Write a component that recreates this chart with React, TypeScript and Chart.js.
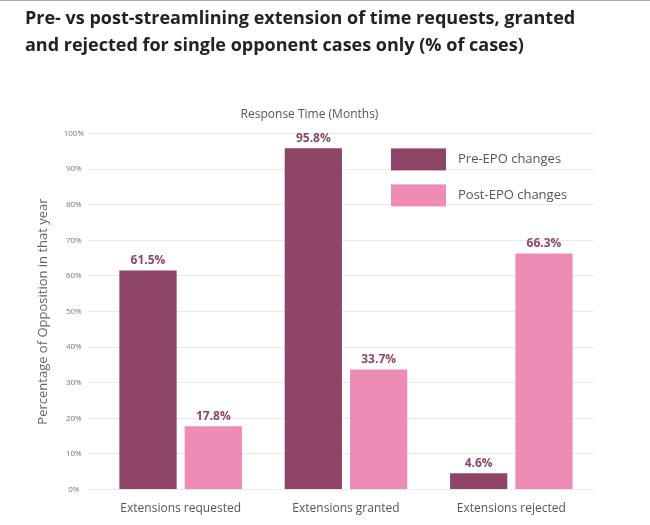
import React, { useEffect, useRef } from "react";
import { Chart, registerables } from "chart.js";

Chart.register(...registerables);

const titleLines = [
  "Pre- vs post-streamlining extension of time requests, granted",
  "and rejected for single opponent cases only (% of cases)",
];
const subtitleText = "Response Time (Months)";
const yAxisTitle = "Percentage of Opposition in that year";
const categories = ["Extensions requested", "Extensions granted", "Extensions rejected"];
const seriesNames = ["Pre-EPO changes", "Post-EPO changes"];
const preEPO = [61.5, 95.8, 4.6];
const postEPO = [17.8, 33.7, 66.3];
const yMin = 0;
const yMax = 100;
const yStep = 10;

const FONT = "'Open Sans', 'DejaVu Sans', sans-serif";
const DARK = "#8f4567";
const PINK = "#ee8cb6";

const valueLabels = {
  id: "valueLabels",
  afterDatasetsDraw(chart: any) {
    const ctx = chart.ctx;
    ctx.save();
    ctx.font = `bold 12px ${FONT}`;
    ctx.fillStyle = "#8a4766";
    ctx.textAlign = "center";
    ctx.textBaseline = "bottom";
    chart.data.datasets.forEach((ds: any, di: number) => {
      const meta = chart.getDatasetMeta(di);
      meta.data.forEach((el: any, i: number) => {
        const v = ds.data[i];
        ctx.fillText(v.toFixed(1) + "%", el.x, el.y - 4);
      });
    });
    ctx.restore();
  },
};

const insideLegend = {
  id: "insideLegend",
  afterDraw(chart: any) {
    const ctx = chart.ctx;
    const { right, top } = chart.chartArea;
    const x0 = right - 203;
    ctx.save();
    ctx.font = `13px ${FONT}`;
    ctx.textAlign = "left";
    ctx.textBaseline = "middle";
    chart.data.datasets.forEach((ds: any, i: number) => {
      const y = top + 15 + i * 36;
      ctx.fillStyle = ds.backgroundColor;
      ctx.fillRect(x0, y, 55, 22);
      ctx.fillStyle = "#555";
      ctx.fillText(ds.label, x0 + 67, y + 11);
    });
    ctx.restore();
  },
};

export default function App() {
  const ref = useRef<HTMLCanvasElement>(null);
  useEffect(() => {
    if (!ref.current) return;
    const chart = new Chart(ref.current, {
      type: "bar",
      data: {
        labels: categories,
        datasets: [
          {
            label: seriesNames[0],
            data: preEPO,
            backgroundColor: DARK,
            categoryPercentage: 0.79,
            barPercentage: 0.877,
          },
          {
            label: seriesNames[1],
            data: postEPO,
            backgroundColor: PINK,
            categoryPercentage: 0.79,
            barPercentage: 0.877,
          },
        ],
      },
      options: {
        animation: false,
        responsive: false,
        layout: { padding: { left: 25, right: 56, top: 0, bottom: 5 } },
        plugins: {
          legend: { display: false },
          tooltip: { enabled: false },
          title: {
            display: true,
            text: titleLines,
            align: "start",
            color: "#222",
            font: { family: FONT, size: 18, weight: "bold", lineHeight: 1.5 },
            padding: { top: 4, bottom: 0 },
          },
          subtitle: {
            display: true,
            text: subtitleText,
            align: "center",
            color: "#555",
            font: { family: FONT, size: 12 },
            padding: { top: 48, bottom: 12 },
          },
        },
        scales: {
          x: {
            grid: { display: false },
            border: { display: false },
            ticks: { color: "#555", font: { family: FONT, size: 12 }, padding: 4 },
          },
          y: {
            min: yMin,
            max: yMax,
            ticks: {
              stepSize: yStep,
              callback: (v: any) => v + "%",
              color: "#777",
              font: { family: FONT, size: 8 },
              crossAlign: "center",
              padding: 4,
            },
            grid: { color: "#e9e9e9", tickLength: 10 },
            border: { display: false },
            title: {
              display: true,
              text: yAxisTitle,
              color: "#666",
              font: { family: FONT, size: 13 },
              padding: { top: 10, bottom: 0 },
            },
            afterFit: (s: any) => {
              s.width = 73;
            },
          },
        },
      },
      plugins: [valueLabels, insideLegend],
    } as any);
    return () => chart.destroy();
  }, []);
  return (
    <div
      style={{
        position: "absolute",
        left: 0,
        top: 0,
        width: 650,
        height: 525,
        background: "#fff",
        borderTop: "1px solid #aaa",
        boxSizing: "border-box",
      }}
    >
      <canvas ref={ref} width={650} height={524} />
    </div>
  );
}
